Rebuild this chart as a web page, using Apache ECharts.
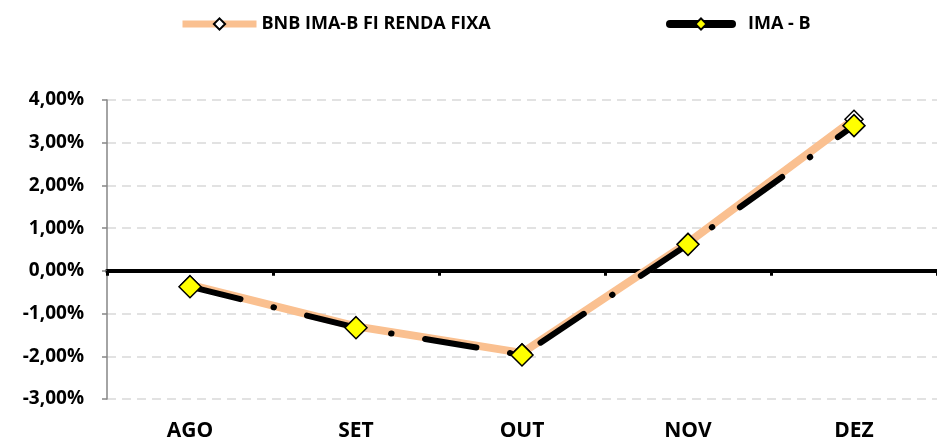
<!DOCTYPE html>
<html>
<head>
<meta charset="utf-8">
<script src="https://cdn.jsdelivr.net/npm/echarts@6/dist/echarts.min.js"></script>
<style>
  html, body { margin: 0; padding: 0; background: #fff; }
  #chart { width: 937px; height: 445px; }
</style>
</head>
<body>
<div id="chart"></div>
<script>
// dados (em %)
var meses = ['AGO', 'SET', 'OUT', 'NOV', 'DEZ'];
var bnbFundo = [-0.33, -1.30, -1.92, 0.66, 3.55];
var imaB = [-0.37, -1.33, -1.97, 0.62, 3.40];

var fonte = '"Open Sans", Lato, sans-serif';

var chart = echarts.init(document.getElementById('chart'));

var option = {
    animation: false,
    backgroundColor: '#fff',
    legend: [{
        top: 10,
        left: 174,
        itemWidth: 74,
        itemHeight: 14,
        textStyle: { fontFamily: fonte, fontWeight: 'bold', fontSize: 18, color: '#000' },
        data: [{ name: 'BNB IMA-B FI RENDA FIXA', lineStyle: { type: 'solid', width: 7 } }]
    }, {
        top: 10,
        left: 661,
        itemWidth: 62,
        itemHeight: 14,
        textStyle: { fontFamily: fonte, fontWeight: 'bold', fontSize: 18, color: '#000', padding: [0, 0, 0, 11] },
        data: [{ name: 'IMA - B', lineStyle: { type: 'solid', width: 8 } }]
    }],
    grid: { left: 107, right: -7, top: 100, bottom: 46 },
    xAxis: [{
        // rotulos embaixo
        type: 'category',
        data: meses,
        position: 'bottom',
        axisLine: { show: false, onZero: false },
        axisTick: { show: false },
        axisLabel: { fontFamily: fonte, fontWeight: 'bold', fontSize: 21, color: '#000', margin: 22 }
    }, {
        // linha do zero
        type: 'category',
        data: meses,
        position: 'bottom',
        axisLine: { show: true, onZero: true, lineStyle: { color: '#000', width: 4 } },
        axisTick: { show: true, alignWithLabel: false, length: 5, lineStyle: { color: '#000', width: 3 } },
        axisLabel: { show: false }
    }],
    yAxis: {
        type: 'value',
        min: -3,
        max: 4,
        interval: 1,
        axisLine: { show: true, lineStyle: { color: '#868686', width: 1.5 } },
        axisTick: { show: true, length: 5, lineStyle: { color: '#868686', width: 1.5 } },
        axisLabel: {
            fontFamily: fonte, fontWeight: 'bold', fontSize: 19, color: '#000', margin: 23,
            formatter: function (v) { return v.toFixed(2).replace('.', ',') + '%'; }
        },
        splitLine: { show: true, lineStyle: { color: '#d9d9d9', width: 1.5, type: [9, 6] } }
    },
    series: [
        {
            name: 'BNB IMA-B FI RENDA FIXA',
            type: 'line',
            data: bnbFundo,
            z: 2,
            symbol: 'diamond',
            symbolSize: 18,
            itemStyle: { color: '#ffffff', borderColor: '#000', borderWidth: 1.5 },
            lineStyle: { color: '#FAC090', width: 8 }
        },
        {
            name: 'IMA - B',
            type: 'line',
            data: imaB,
            z: 3,
            symbol: 'diamond',
            symbolSize: 22,
            itemStyle: { color: '#ffff00', borderColor: '#000', borderWidth: 1.5 },
            lineStyle: { color: '#000', width: 6, cap: 'round', type: [52, 34, 0.5, 34] }
        }
    ]
};

chart.setOption(option);

window.addEventListener('resize', function () {
    chart.resize();
});
</script>
</body>
</html>
